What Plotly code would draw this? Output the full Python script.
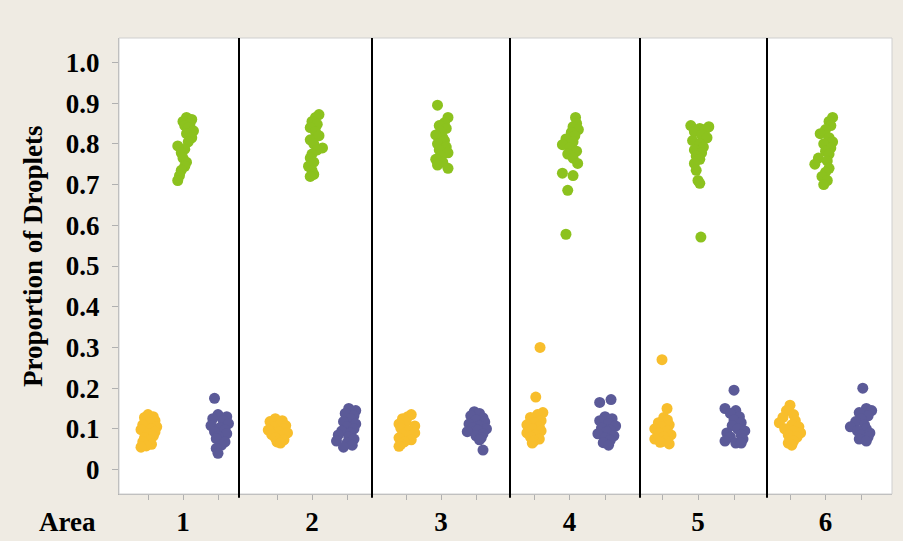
import plotly.graph_objects as go

# ---------------- data ----------------
areas = ["1", "2", "3", "4", "5", "6"]
groups = ["yellow", "green", "purple"]

yellow_y = [
    [0.135,0.13,0.128,0.12,0.115,0.11,0.105,0.10,0.098,0.092,0.088,0.082,0.078,0.072,0.068,0.062,0.058,0.055],
    [0.125,0.12,0.118,0.112,0.108,0.104,0.1,0.097,0.093,0.09,0.086,0.082,0.078,0.073,0.068,0.065],
    [0.135,0.13,0.125,0.118,0.112,0.107,0.102,0.098,0.094,0.09,0.086,0.082,0.078,0.073,0.068,0.062,0.057],
    [0.30,0.178,0.14,0.135,0.128,0.12,0.115,0.11,0.105,0.1,0.095,0.09,0.085,0.08,0.075,0.07,0.065],
    [0.27,0.15,0.128,0.122,0.115,0.11,0.105,0.1,0.095,0.09,0.085,0.08,0.075,0.07,0.067,0.063],
    [0.158,0.145,0.135,0.128,0.12,0.115,0.11,0.105,0.1,0.095,0.09,0.085,0.08,0.075,0.07,0.065,0.06],
]
yellow_jit = [
    [0.0,0.15,-0.1,0.2,0.05,-0.15,0.25,0.1,-0.2,0.2,0.0,0.15,-0.1,0.05,-0.15,0.1,-0.05,-0.2],
    [-0.05,0.15,-0.2,0.1,0.25,-0.1,0.2,-0.25,0.05,0.3,-0.15,0.1,-0.05,0.2,0.0,0.1],
    [0.15,0.05,-0.1,0.0,-0.2,0.25,-0.15,0.2,0.05,0.25,-0.1,0.1,-0.2,0.15,-0.05,-0.15,-0.2],
    [0.17,0.05,0.25,0.1,-0.1,0.2,0.0,-0.2,0.15,-0.05,0.2,-0.2,0.05,-0.1,0.15,0.0,-0.05],
    [0.0,0.14,0.05,0.15,-0.1,0.2,0.0,-0.2,0.15,-0.1,0.25,0.05,-0.2,0.1,-0.05,0.2],
    [0.0,-0.1,0.1,-0.2,0.15,-0.3,0.05,0.25,-0.15,0.1,0.3,-0.05,0.2,0.0,0.1,-0.05,0.05],
]

green_y = [
    [0.865,0.86,0.855,0.85,0.845,0.84,0.832,0.825,0.815,0.805,0.795,0.787,0.778,0.765,0.755,0.745,0.735,0.722,0.71],
    [0.872,0.865,0.855,0.848,0.84,0.83,0.82,0.81,0.8,0.79,0.785,0.775,0.765,0.755,0.745,0.735,0.725,0.72],
    [0.895,0.865,0.852,0.845,0.838,0.83,0.822,0.815,0.808,0.8,0.792,0.785,0.778,0.77,0.762,0.755,0.748,0.74],
    [0.865,0.85,0.842,0.835,0.828,0.82,0.812,0.805,0.798,0.79,0.782,0.775,0.765,0.752,0.728,0.722,0.686,0.578],
    [0.845,0.842,0.838,0.835,0.83,0.822,0.815,0.808,0.8,0.792,0.785,0.778,0.77,0.762,0.752,0.735,0.71,0.703,0.571],
    [0.865,0.855,0.845,0.835,0.825,0.815,0.805,0.8,0.79,0.782,0.775,0.765,0.758,0.75,0.74,0.73,0.72,0.71,0.70],
]
green_jit = [
    [0.1,0.25,0.0,0.2,0.05,0.15,0.3,0.1,0.25,0.15,-0.15,0.05,-0.05,0.0,0.1,0.05,-0.05,-0.1,-0.15],
    [0.2,0.1,0.0,0.15,-0.05,0.1,0.2,-0.05,0.05,0.3,0.15,0.0,-0.05,0.05,-0.1,0.0,0.05,-0.05],
    [-0.1,0.2,0.1,-0.05,0.15,0.0,-0.15,0.05,0.1,-0.1,0.15,-0.05,0.2,0.0,-0.15,0.05,-0.1,0.2],
    [0.17,0.2,0.1,0.25,0.05,0.15,-0.1,0.1,-0.2,0.0,0.2,-0.05,0.1,0.23,-0.2,0.1,-0.05,-0.1],
    [-0.2,0.3,0.05,0.2,-0.1,0.1,0.25,-0.15,0.05,0.15,-0.1,0.1,-0.05,0.05,-0.1,-0.05,0.0,0.05,0.08],
    [0.2,0.1,0.15,0.0,-0.15,0.1,0.2,-0.05,0.15,0.0,0.1,-0.2,0.05,-0.3,0.1,0.0,-0.1,0.05,-0.05],
]

purple_y = [
    [0.175,0.135,0.13,0.125,0.12,0.113,0.108,0.103,0.098,0.093,0.088,0.082,0.076,0.068,0.06,0.052,0.04],
    [0.15,0.145,0.138,0.132,0.125,0.118,0.112,0.105,0.1,0.095,0.09,0.085,0.08,0.075,0.07,0.065,0.06,0.055],
    [0.142,0.138,0.132,0.127,0.122,0.117,0.112,0.107,0.103,0.1,0.097,0.093,0.088,0.083,0.078,0.073,0.048],
    [0.172,0.165,0.13,0.125,0.12,0.113,0.107,0.102,0.097,0.093,0.088,0.083,0.078,0.072,0.066,0.06],
    [0.195,0.15,0.145,0.138,0.13,0.122,0.115,0.108,0.1,0.095,0.09,0.085,0.08,0.075,0.07,0.065,0.065],
    [0.2,0.15,0.145,0.14,0.132,0.125,0.118,0.11,0.105,0.1,0.095,0.09,0.085,0.08,0.075,0.07],
]
purple_jit = [
    [-0.1,0.0,0.25,-0.15,0.15,0.3,-0.2,0.05,0.2,-0.1,0.25,0.0,-0.05,0.2,0.1,-0.05,0.0],
    [0.05,0.25,-0.05,0.2,0.1,-0.1,0.25,0.0,0.2,-0.15,0.1,-0.25,0.05,0.2,-0.3,0.0,0.15,-0.1],
    [-0.05,0.1,-0.15,0.2,0.0,0.25,-0.2,0.1,-0.1,0.3,0.05,-0.25,0.2,0.0,0.15,0.1,0.2],
    [0.17,-0.15,0.0,0.2,-0.15,0.1,0.3,-0.1,0.15,0.05,-0.2,0.25,0.0,0.15,-0.05,0.1],
    [0.0,-0.25,0.05,-0.1,0.15,0.0,0.2,-0.05,0.1,0.3,-0.2,0.2,-0.1,0.25,-0.25,0.05,0.2],
    [0.05,0.15,0.3,-0.05,0.2,0.0,-0.15,0.1,-0.3,0.15,-0.1,0.25,0.0,0.2,-0.05,0.15],
]

y_ticks = [0, 0.1, 0.2, 0.3, 0.4, 0.5, 0.6, 0.7, 0.8, 0.9, 1.0]
y_ticklabels = ["0", "0.1", "0.2", "0.3", "0.4", "0.5", "0.6", "0.7", "0.8", "0.9", "1.0"]

# ---------------- styling / layout ----------------
BG = "#EFEBE3"
colors = {"yellow": "#F8BE2C", "green": "#8CC21E", "purple": "#5B5A98"}
W, H = 903, 541
ML, MR, MT, MB = 119, 11, 38, 47
plot_w = W - ML - MR
plot_h = H - MT - MB
bounds_px = [119, 239, 372, 510, 640, 767, 892]
dom = [(b - ML) / plot_w for b in bounds_px]
dom[-1] = 1.0
tick0_px = [148, 277, 406, 534, 662, 790]
tick_step_px = [35, 35, 35, 35.5, 36, 35.5]

FONT = "Liberation Serif"
data_sets = {"yellow": (yellow_y, yellow_jit), "green": (green_y, green_jit), "purple": (purple_y, purple_jit)}

fig = go.Figure()
for i, area in enumerate(areas):
    xa = "x" if i == 0 else f"x{i+1}"
    for gi, g in enumerate(groups):
        ys, js = data_sets[g]
        fig.add_trace(go.Scatter(
            x=[gi + j for j in js[i]], y=ys[i], mode="markers",
            xaxis=xa, yaxis="y", showlegend=False,
            marker=dict(color=colors[g], size=11, line=dict(width=0)),
        ))

layout = dict(
    width=W, height=H,
    margin=dict(l=ML, r=MR, t=MT, b=MB, autoexpand=False),
    paper_bgcolor=BG, plot_bgcolor="white",
    showlegend=False,
    yaxis=dict(
        anchor="x", range=[-0.06, 1.06], tickvals=y_ticks, ticktext=y_ticklabels,
        ticks="outside", ticklen=6, tickcolor="#b0b0b0", showline=True, linecolor="#b0b0b0",
        showgrid=False, zeroline=False, automargin=False, ticklabelstandoff=7,
        tickfont=dict(family=FONT, size=27, color="black", weight="bold"),
    ),
)
for i in range(6):
    key = "xaxis" if i == 0 else f"xaxis{i+1}"
    left = (bounds_px[i] - tick0_px[i]) / tick_step_px[i]
    right = (bounds_px[i + 1] - tick0_px[i]) / tick_step_px[i]
    layout[key] = dict(
        domain=[dom[i], dom[i + 1]], anchor="y", range=[left, right],
        tickvals=[0, 1, 2], ticktext=["", areas[i], ""],
        ticks="outside", ticklen=5, tickcolor="#b0b0b0", showline=True, linecolor="#b0b0b0",
        showgrid=False, zeroline=False, automargin=False, ticklabelstandoff=-1,
        tickfont=dict(family=FONT, size=27, color="black", weight="bold"),
    )
fig.update_layout(**layout)

shapes = [dict(type="rect", xref="paper", yref="paper", x0=0, x1=1, y0=0, y1=1,
               line=dict(color="#cfcfcf", width=1), fillcolor="rgba(0,0,0,0)", layer="above")]
for b in dom[1:-1]:
    shapes.append(dict(type="line", xref="paper", yref="paper", x0=b, x1=b, y0=-0.008, y1=1,
                       line=dict(color="black", width=2)))
fig.update_layout(shapes=shapes)

def px_x(px):
    return (px - ML) / plot_w

def px_y(py):
    return (H - MB - py) / plot_h

fig.add_annotation(text="Area", xref="paper", yref="paper", x=px_x(67), y=px_y(522),
                   xanchor="center", yanchor="middle", showarrow=False,
                   font=dict(family=FONT, size=27, color="black", weight="bold"))
fig.add_annotation(text="Proportion of Droplets", xref="paper", yref="paper", x=px_x(33), y=px_y(257),
                   xanchor="center", yanchor="middle", showarrow=False, textangle=-90,
                   font=dict(family=FONT, size=27, color="black", weight="bold"))

fig.write_html("out.html", config={"displayModeBar": False},
               post_script="document.body.style.margin='0';document.body.style.background='%s';" % BG)
